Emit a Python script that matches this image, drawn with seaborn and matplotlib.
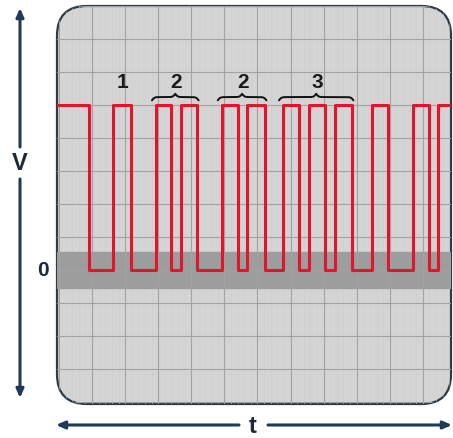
import numpy as np
import pandas as pd
import matplotlib
matplotlib.use("Agg")
import matplotlib.pyplot as plt
import seaborn as sns
from matplotlib.patches import FancyBboxPatch

# Zeitpunkte der Flanken (in Rasterteilungen) und Pegel der roten Spur
edge_t = [-0.1, 0.91, 1.63, 2.18, 2.93, 3.38, 3.69, 4.17, 4.92, 5.41, 5.68, 6.22,
          6.77, 7.25, 7.55, 8.04, 8.34, 8.85, 9.46, 9.94, 10.69, 11.18, 11.45, 12.0]
edge_v = [5, 0, 5, 0, 5, 0, 5, 0, 5, 0, 5, 0,
          5, 0, 5, 0, 5, 0, 5, 0, 5, 0, 5, 5]

# Pulsgruppen mit Beschriftung
group_labels = ["1", "2", "2", "3"]
group_start = [1.63, 2.93, 4.92, 6.77]
group_end = [2.18, 4.17, 6.22, 8.85]
group_brace = [False, True, True, True]

band_lo, band_hi = -0.53, 0.55

df = pd.DataFrame({"t": edge_t, "v": edge_v})

sns.set_style("white")
plt.rcParams["font.family"] = ["Liberation Sans", "DejaVu Sans"]

W, H = 453, 439
fig = plt.figure(figsize=(W / 100, H / 100), dpi=100)
fig.patch.set_facecolor("white")

ax = fig.add_axes([57 / W, 34 / H, 394 / W, 398 / H])
x0, x1 = -0.06, 11.85
y0, y1 = -4.06, 8.0
ax.set_xlim(x0, x1)
ax.set_ylim(y0, y1)
ax.axis("off")

# Bildschirm mit abgerundeten Ecken
screen = FancyBboxPatch((x0, y0), x1 - x0, y1 - y0,
                        boxstyle="round,pad=0,rounding_size=0.9",
                        facecolor="#d4d4d4", edgecolor="#2d3b48", lw=1.6,
                        transform=ax.transData, zorder=0, clip_on=False)
ax.add_patch(screen)

# feines Raster
for xm in np.arange(0, 12, 0.2):
    ln = ax.axvline(xm, color="#cdcdcd", lw=0.4, zorder=0.5)
    ln.set_clip_path(screen)

band = ax.axhspan(band_lo, band_hi, color="#9d9d9d", zorder=1)
band.set_clip_path(screen)

for xg in range(0, 12):
    ln = ax.axvline(xg, color="#a2a2a2", lw=0.8, zorder=2)
    ln.set_clip_path(screen)
for yg in range(-4, 9):
    ln = ax.axhline(yg, color="#a2a2a2", lw=0.8, zorder=2)
    ln.set_clip_path(screen)

# rote Spur
sns.lineplot(data=df, x="t", y="v", ax=ax, color="#e3152b", lw=2.2,
             drawstyle="steps-post", estimator=None, sort=False, zorder=3,
             legend=False)
for ln in ax.lines[-1:]:
    ln.set_clip_path(screen)
ax.set_xlim(x0, x1)
ax.set_ylim(y0, y1)
ax.axis("off")


def brace(ax, xa, xb, yb, h, beta=28.0):
    xs = np.linspace(xa, xb, 401)
    half = xs[:201]
    yh = 1 / (1 + np.exp(-beta * (half - half[0]))) + 1 / (1 + np.exp(-beta * (half - half[-1])))
    yy = np.concatenate((yh, yh[-2::-1]))
    ax.plot(xs, yb + (yy - 1.0) * h, color="#111111", lw=1.4, zorder=4,
            solid_capstyle="round")


for lab, s, e, b in zip(group_labels, group_start, group_end, group_brace):
    xc = (s + e) / 2
    if b:
        brace(ax, s - 0.12, e + 0.05, 5.24, 0.2)
    ax.text(xc, 5.72, lab, ha="center", va="center", fontsize=15,
            fontweight="bold", color="#1a1a1a", zorder=5)

# Achsenpfeile außerhalb des Bildschirms (Pixelkoordinaten)
ov = fig.add_axes([0, 0, 1, 1])
ov.set_xlim(0, W)
ov.set_ylim(H, 0)
ov.axis("off")
ov.patch.set_alpha(0)

arrow_col = "#1f3b57"
aprops = dict(arrowstyle="-|>,head_length=0.5,head_width=0.22", color=arrow_col,
              lw=2.2, shrinkA=0, shrinkB=0)
ov.annotate("", xy=(20, 9), xytext=(20, 148), arrowprops=aprops)
ov.annotate("", xy=(20, 399), xytext=(20, 180), arrowprops=aprops)
ov.annotate("", xy=(56, 426), xytext=(239, 426), arrowprops=aprops)
ov.annotate("", xy=(452, 426), xytext=(268, 426), arrowprops=aprops)

txt_col = "#1b2a38"
ov.text(20, 164, "V", ha="center", va="center", fontsize=17, fontweight="bold", color=txt_col)
ov.text(43, 271, "0", ha="center", va="center", fontsize=15, fontweight="bold", color=txt_col)
ov.text(253, 427, "t", ha="center", va="center", fontsize=17, fontweight="bold", color=txt_col)

fig.savefig("out.png", dpi=100)
